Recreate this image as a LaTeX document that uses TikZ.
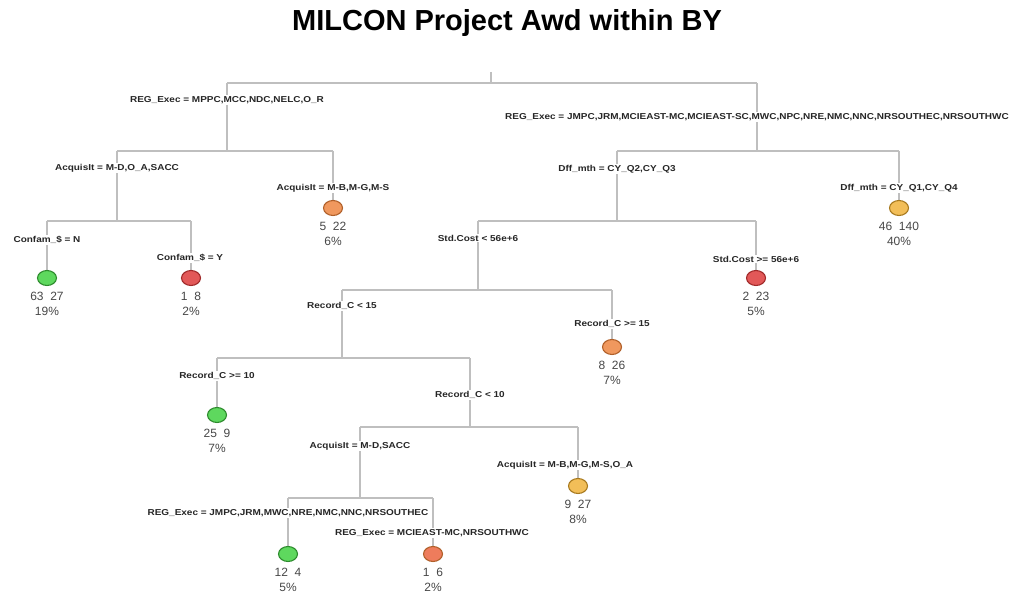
\documentclass[tikz,border=0pt]{standalone}
\usepackage{fontspec}
\setmainfont{Liberation Sans}
\newfontfamily\splitfont[FakeStretch=1.16]{Liberation Sans}
\usetikzlibrary{shapes.geometric,backgrounds}
\definecolor{lgreen}{HTML}{5ED85E}
\definecolor{lgreenD}{HTML}{2E8B2E}
\definecolor{lred}{HTML}{E25858}
\definecolor{lredD}{HTML}{A02A2A}
\definecolor{lorange}{HTML}{F0985E}
\definecolor{lorangeD}{HTML}{B0602A}
\definecolor{lyellow}{HTML}{F2BE58}
\definecolor{lyellowD}{HTML}{A87A20}
\definecolor{lsalmon}{HTML}{EE7C5C}
\begin{document}
\begin{tikzpicture}[x=1pt,y=-1pt,
  edge/.style={draw=black!25, line width=1.3pt},
  split/.style={fill=white, inner sep=1pt, text=black!85,
    font=\splitfont\fontsize{8.6}{9}\selectfont\bfseries},
  leaf/.style={ellipse, line width=1.1pt, minimum width=19pt, minimum height=15pt, inner sep=0pt},
  gleaf/.style={leaf, fill=lgreen, draw=lgreenD},
  rleaf/.style={leaf, fill=lred, draw=lredD},
  oleaf/.style={leaf, fill=lorange, draw=lorangeD},
  yleaf/.style={leaf, fill=lyellow, draw=lyellowD},
  sleaf/.style={leaf, fill=lsalmon, draw=lorangeD},
  count/.style={inner sep=0pt, text=black!72, font=\fontsize{12}{13}\selectfont},
  title/.style={inner sep=0pt, font=\fontsize{29}{32}\selectfont\bfseries}]
\useasboundingbox (0,0) rectangle (1014,596);

\node[title] (ttl) at (507,23) {MILCON Project Awd within BY};

% horizontal bars of the splits
\coordinate (b0) at (0,83);
\coordinate (b1) at (0,151);
\coordinate (b2) at (0,151);
\coordinate (b11) at (0,221);
\coordinate (b21) at (0,221);
\coordinate (b211) at (0,290);
\coordinate (b2111) at (0,358);
\coordinate (b21112) at (0,427);
\coordinate (b211121) at (0,498);

\coordinate (root) at (491,72);

% split labels
\node[split] (s1) at (227,100) {REG\_Exec = MPPC,MCC,NDC,NELC,O\_R};
\node[split] (s2) at (757,117) {REG\_Exec = JMPC,JRM,MCIEAST-MC,MCIEAST-SC,MWC,NPC,NRE,NMC,NNC,NRSOUTHEC,NRSOUTHWC};
\node[split] (s11) at (117,168) {AcquisIt = M-D,O\_A,SACC};
\node[split] (s12) at (333,188) {AcquisIt = M-B,M-G,M-S};
\node[split] (s111) at (47,240) {Confam\_\$ = N};
\node[split] (s112) at (190,258) {Confam\_\$ = Y};
\node[split] (s21) at (617,169) {Dff\_mth = CY\_Q2,CY\_Q3};
\node[split] (s22) at (899,188) {Dff\_mth = CY\_Q1,CY\_Q4};
\node[split] (s211) at (478,238) {Std.Cost < 56e+6};
\node[split] (s212) at (756,259) {Std.Cost >= 56e+6};
\node[split] (s2111) at (342,306) {Record\_C < 15};
\node[split] (s2112) at (612,324) {Record\_C >= 15};
\node[split] (s21111) at (217,376) {Record\_C >= 10};
\node[split] (s21112) at (470,395) {Record\_C < 10};
\node[split] (s211121) at (360,446) {AcquisIt = M-D,SACC};
\node[split] (s211122) at (565,465) {AcquisIt = M-B,M-G,M-S,O\_A};
\node[split] (s2111211) at (288,513) {REG\_Exec = JMPC,JRM,MWC,NRE,NMC,NNC,NRSOUTHEC};
\node[split] (s2111212) at (432,533) {REG\_Exec = MCIEAST-MC,NRSOUTHWC};

% leaves
\node[oleaf] (l12) at (333,208) {};
\node[gleaf] (l111) at (47,278) {};
\node[rleaf] (l112) at (191,278) {};
\node[yleaf] (l22) at (899,208) {};
\node[rleaf] (l212) at (756,278) {};
\node[oleaf] (l2112) at (612,347) {};
\node[gleaf] (l21111) at (217,415) {};
\node[yleaf] (l211122) at (578,486) {};
\node[gleaf] (l2111211) at (288,554) {};
\node[sleaf] (l2111212) at (433,554) {};

% counts and shares
\foreach \l/\n/\p in {l12/{5\ \ 22}/6\%, l111/{63\ \ 27}/19\%, l112/{1\ \ 8}/2\%,
    l22/{46\ \ 140}/40\%, l212/{2\ \ 23}/5\%, l2112/{8\ \ 26}/7\%,
    l21111/{25\ \ 9}/7\%, l211122/{9\ \ 27}/8\%, l2111211/{12\ \ 4}/5\%,
    l2111212/{1\ \ 6}/2\%}{
  \node[count] (\l n) at ([yshift=-18pt]\l.center) {\n};
  \node[count] (\l p) at ([yshift=-33pt]\l.center) {\p};
}

\begin{scope}[on background layer]
  % root split
  \draw[edge] (root) -- (root |- b0) (s1 |- b0) -- (s2 |- b0)
    (s1 |- b0) -- (s1) (s2 |- b0) -- (s2);
  % REG_Exec (left)
  \draw[edge] (s1) -- (s1 |- b1) (s11 |- b1) -- (l12 |- b1)
    (s11 |- b1) -- (s11) (l12 |- b1) -- (l12.north);
  % REG_Exec (right)
  \draw[edge] (s2) -- (s2 |- b2) (s21 |- b2) -- (l22 |- b2)
    (s21 |- b2) -- (s21) (l22 |- b2) -- (l22.north);
  % AcquisIt
  \draw[edge] (s11) -- (s11 |- b11) (l111 |- b11) -- (l112 |- b11)
    (l111 |- b11) -- (l111.north) (l112 |- b11) -- (l112.north);
  % Dff_mth
  \draw[edge] (s21) -- (s21 |- b21) (s211 |- b21) -- (l212 |- b21)
    (s211 |- b21) -- (s211) (l212 |- b21) -- (l212.north);
  % Std.Cost
  \draw[edge] (s211) -- (s211 |- b211) (s2111 |- b211) -- (l2112 |- b211)
    (s2111 |- b211) -- (s2111) (l2112 |- b211) -- (l2112.north);
  % Record_C < 15
  \draw[edge] (s2111) -- (s2111 |- b2111) (l21111 |- b2111) -- (s21112 |- b2111)
    (l21111 |- b2111) -- (l21111.north) (s21112 |- b2111) -- (s21112);
  % Record_C < 10
  \draw[edge] (s21112) -- (s21112 |- b21112) (s211121 |- b21112) -- (l211122 |- b21112)
    (s211121 |- b21112) -- (s211121) (l211122 |- b21112) -- (l211122.north);
  % AcquisIt = M-D,SACC
  \draw[edge] (s211121) -- (s211121 |- b211121) (l2111211 |- b211121) -- (l2111212 |- b211121)
    (l2111211 |- b211121) -- (l2111211.north) (l2111212 |- b211121) -- (l2111212.north);
\end{scope}
\end{tikzpicture}
\end{document}
